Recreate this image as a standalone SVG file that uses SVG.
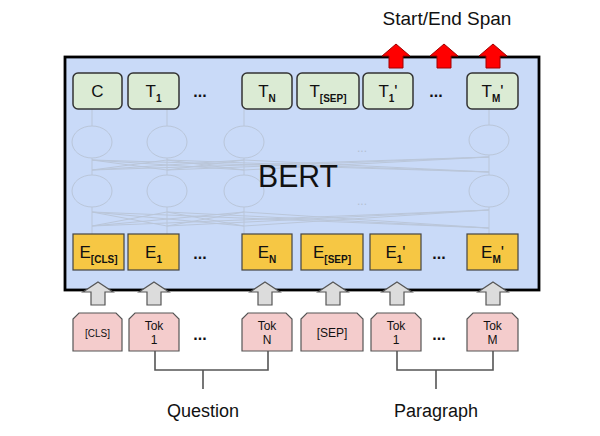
<svg xmlns="http://www.w3.org/2000/svg" width="600" height="436" viewBox="0 0 600 436">
<defs>
<style>
text{font-family:"Liberation Sans",Arial,sans-serif;fill:#111}
.t{fill:#dbebd4;stroke:#333;stroke-width:1.5}
.e{fill:#f6c744;stroke:#444;stroke-width:1.2}
.k{fill:#f4cccc;stroke:#555;stroke-width:1.2}
.lbl{font-size:17px;text-anchor:middle}
.sub{font-size:10px;font-weight:bold}
.tok{font-size:12px;text-anchor:middle}
.sm{font-size:10px;text-anchor:middle}
.dots{font-size:16px;text-anchor:middle;font-weight:bold}
.net{fill:none;stroke:#bac6d9;stroke-width:1}
.ga{fill:#dcdcdc;stroke:#555;stroke-width:1.2}
.ra{fill:#ff0000;stroke:#a00000;stroke-width:1}
.br{fill:none;stroke:#555;stroke-width:1.6}
</style>
<path id="garrow" d="M0,-12 L15,-2 L7,-2 L7,11 L-7,11 L-7,-2 L-15,-2 Z"/>
<path id="rarrow" d="M0,-12 L14,0 L7,0 L7,12 L-7,12 L-7,0 L-14,0 Z"/>
</defs>
<rect width="600" height="436" fill="#fff"/>
<g id="bert">
<rect x="65" y="57" width="474" height="233" fill="#c9daf8" stroke="#000" stroke-width="2.8"/>
<g class="net">
<ellipse cx="92" cy="142" rx="20" ry="16"/>
<ellipse cx="167" cy="142" rx="20" ry="16"/>
<ellipse cx="244" cy="142" rx="20" ry="16"/>
<ellipse cx="489" cy="140" rx="20" ry="15"/>
<ellipse cx="92" cy="191" rx="20" ry="16"/>
<ellipse cx="167" cy="191" rx="20" ry="16"/>
<ellipse cx="244" cy="191" rx="20" ry="16"/>
<ellipse cx="489" cy="191" rx="20" ry="16"/>
<path d="M92,234V207M167,234V207M244,234V207M489,234V207M92,175V158M167,175V158M244,175V158M489,175V155M92,126V109M167,126V109M244,126V109M489,125V109"/>
<path d="M92,170L167,160M92,170L244,160M92,170L489,157M167,170L92,160M167,170L244,160M167,170L489,157M244,170L92,160M244,170L167,160M244,170L489,157M489,172L92,160M489,172L167,160M489,172L244,160"/>
<path d="M92,226L167,212M92,226L244,212M92,226L489,210M167,226L92,212M167,226L244,212M167,226L489,210M244,226L92,212M244,226L167,212M244,226L489,210M489,228L92,212M489,228L167,212M489,228L244,212"/>
</g>
<text x="362" y="152" style="fill:#b4c0d2;font-size:12px;text-anchor:middle">...</text>
<text x="362" y="205" style="fill:#b4c0d2;font-size:12px;text-anchor:middle">...</text>
<text x="298" y="187" style="font-size:32px;text-anchor:middle" textLength="80" lengthAdjust="spacingAndGlyphs">BERT</text>
</g>
<g id="outputs">
<g id="t-c"><rect class="t" x="73" y="73" width="49" height="36" rx="5"/><text class="lbl" x="97.5" y="97">C</text></g>
<g id="t-1"><rect class="t" x="128" y="73" width="51" height="36" rx="5"/><text class="lbl" x="153.5" y="97">T<tspan class="sub" dy="5">1</tspan></text></g>
<text class="dots" x="200" y="97">...</text>
<g id="t-n"><rect class="t" x="242" y="73" width="50" height="36" rx="5"/><text class="lbl" x="267" y="97">T<tspan class="sub" dy="5">N</tspan></text></g>
<g id="t-sep"><rect class="t" x="297" y="73" width="62" height="36" rx="5"/><text class="lbl" x="328" y="97">T<tspan class="sub" dy="5">[SEP]</tspan></text></g>
<g id="t-1p"><rect class="t" x="363" y="73" width="50" height="36" rx="5"/><text class="lbl" x="388" y="97">T<tspan class="sub" dy="5">1</tspan><tspan dy="-5">'</tspan></text></g>
<text class="dots" x="436" y="97">...</text>
<g id="t-mp"><rect class="t" x="467" y="73" width="51" height="36" rx="5"/><text class="lbl" x="492.5" y="97">T<tspan class="sub" dy="5">M</tspan><tspan dy="-5">'</tspan></text></g>
</g>
<g id="embeddings">
<g id="e-cls"><rect class="e" x="73" y="234" width="51" height="36"/><text class="lbl" x="98.5" y="258">E<tspan class="sub" dy="5">[CLS]</tspan></text></g>
<g id="e-1"><rect class="e" x="128" y="234" width="51" height="36"/><text class="lbl" x="153.5" y="258">E<tspan class="sub" dy="5">1</tspan></text></g>
<text class="dots" x="200" y="259">...</text>
<g id="e-n"><rect class="e" x="242" y="234" width="50" height="36"/><text class="lbl" x="267" y="258">E<tspan class="sub" dy="5">N</tspan></text></g>
<g id="e-sep"><rect class="e" x="301" y="234" width="62" height="36"/><text class="lbl" x="332" y="258">E<tspan class="sub" dy="5">[SEP]</tspan></text></g>
<g id="e-1p"><rect class="e" x="370" y="234" width="51" height="36"/><text class="lbl" x="395.5" y="258">E<tspan class="sub" dy="5">1</tspan><tspan dy="-5">'</tspan></text></g>
<text class="dots" x="439" y="259">...</text>
<g id="e-mp"><rect class="e" x="467" y="234" width="51" height="36"/><text class="lbl" x="492.5" y="258">E<tspan class="sub" dy="5">M</tspan><tspan dy="-5">'</tspan></text></g>
</g>
<g id="tokens">
<g id="k-cls"><path class="k" d="M79,313H116L122,319V351H73V319Z"/><text class="sm" x="97.5" y="337">[CLS]</text></g>
<g id="k-1"><path class="k" d="M135,313H173L179,319V351H129V319Z"/><text class="tok" x="154" y="330">Tok</text><text class="tok" x="154" y="344">1</text></g>
<text class="dots" x="200" y="340">...</text>
<g id="k-n"><path class="k" d="M248,313H286L292,319V351H242V319Z"/><text class="tok" x="267" y="330">Tok</text><text class="tok" x="267" y="344">N</text></g>
<g id="k-sep"><path class="k" d="M307,313H357L363,319V351H301V319Z"/><text class="tok" x="332" y="337">[SEP]</text></g>
<g id="k-1p"><path class="k" d="M377,313H415L421,319V351H371V319Z"/><text class="tok" x="396" y="330">Tok</text><text class="tok" x="396" y="344">1</text></g>
<text class="dots" x="439" y="340">...</text>
<g id="k-m"><path class="k" d="M473,313H512L518,319V351H467V319Z"/><text class="tok" x="492.5" y="330">Tok</text><text class="tok" x="492.5" y="344">M</text></g>
</g>
<g id="connectors">
<use href="#garrow" class="ga" x="98" y="294"/>
<use href="#garrow" class="ga" x="154" y="294"/>
<use href="#garrow" class="ga" x="265" y="294"/>
<use href="#garrow" class="ga" x="333" y="294"/>
<use href="#garrow" class="ga" x="397" y="294"/>
<use href="#garrow" class="ga" x="493" y="294"/>
<use href="#rarrow" class="ra" x="396" y="56"/>
<use href="#rarrow" class="ra" x="444" y="56"/>
<use href="#rarrow" class="ra" x="493" y="56"/>
<path class="br" d="M155,351V370H268V351M203,370V389"/>
<path class="br" d="M397,351V370H493V351M436,370V389"/>
</g>
<g id="labels">
<text x="447" y="25" style="font-size:19px;text-anchor:middle">Start/End Span</text>
<text x="203" y="417" style="font-size:18px;text-anchor:middle">Question</text>
<text x="436" y="417" style="font-size:18px;text-anchor:middle">Paragraph</text>
</g>
</svg>
